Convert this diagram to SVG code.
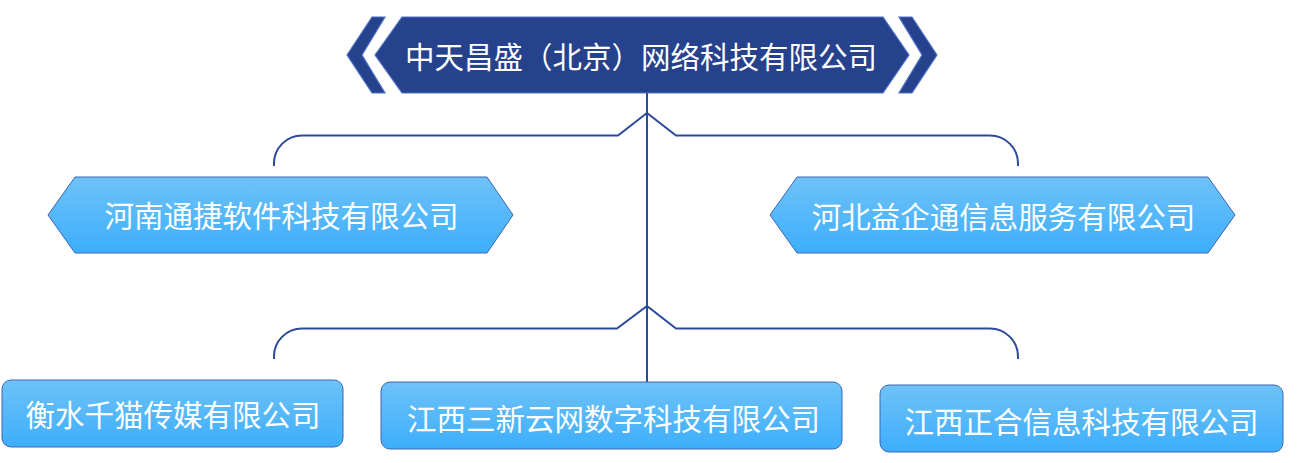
<svg xmlns="http://www.w3.org/2000/svg" width="1299" height="463" viewBox="0 0 1299 463">
<defs>
<linearGradient id="lg" x1="0" y1="0" x2="0" y2="1">
<stop offset="0" stop-color="#6EC2F7"/>
<stop offset="1" stop-color="#3DAEFC"/>
</linearGradient>
<style>
.lbl{font-family:"Noto Sans CJK SC","Noto Sans",sans-serif;font-size:29.5px;fill:#ffffff;text-anchor:middle;dominant-baseline:central}
.light{fill:url(#lg);stroke:#3C66B8;stroke-width:1}
.dark{fill:#26428C;stroke:#4E70C8;stroke-width:1.2}
.conn{fill:none;stroke:#2B4A9C;stroke-width:2}
</style>
</defs>
<rect width="1299" height="463" fill="#ffffff"/>
<g id="connectors">
<path class="conn" d="M647,93 V382"/>
<path class="conn" d="M274,166 V164 A28,28 0 0 1 302,135.5 H618 L647,113 L676,135.5 H990 A28,28 0 0 1 1018,164 V166"/>
<path class="conn" d="M274,359 V357 A28,28 0 0 1 302,328.5 H617 L647,306 L676,328.5 H990 A28,28 0 0 1 1018,357 V359"/>
</g>
<g id="root">
<polygon class="dark" points="347,55 372,17 385,17 362,55 385,93 372,93"/>
<polygon class="dark" points="937,55 912,17 899,17 922,55 899,93 912,93"/>
<polygon class="dark" points="375,55 402,17 883,17 909,55 883,93 402,93"/>
<text class="lbl" x="641" y="55">中天昌盛（北京）网络科技有限公司</text>
</g>
<g id="henan">
<polygon class="light" points="48,215 75,177 487,177 513,215 487,253 75,253"/>
<text class="lbl" x="281.5" y="214">河南通捷软件科技有限公司</text>
</g>
<g id="hebei">
<polygon class="light" points="770,215 797,177 1208,177 1235,215 1208,253 797,253"/>
<text class="lbl" x="1003.5" y="215">河北益企通信息服务有限公司</text>
</g>
<g id="hengshui">
<rect class="light" x="2" y="380" width="341" height="67" rx="9"/>
<text class="lbl" x="173" y="413">衡水千猫传媒有限公司</text>
</g>
<g id="jiangxi-sanxin">
<rect class="light" x="381" y="382" width="461" height="67" rx="9"/>
<text class="lbl" x="613.5" y="417">江西三新云网数字科技有限公司</text>
</g>
<g id="jiangxi-zhenghe">
<rect class="light" x="880" y="385" width="403" height="67" rx="9"/>
<text class="lbl" x="1081.5" y="420">江西正合信息科技有限公司</text>
</g>
</svg>
